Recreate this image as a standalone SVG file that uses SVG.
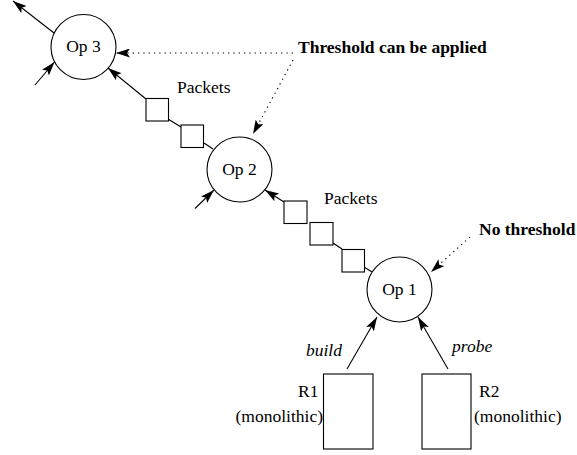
<svg xmlns="http://www.w3.org/2000/svg" width="577" height="455" viewBox="0 0 577 455">
<style>
.node circle{fill:#fff;stroke:#000;stroke-width:1.1}
.pkt{fill:#fff;stroke:#000;stroke-width:1.1}
.lbl{font-family:"Liberation Serif","Times New Roman",serif;font-size:17.5px;fill:#000}
.b{font-weight:bold}
.i{font-style:italic}
.ln{stroke:#000;stroke-width:1.1;fill:none}
.arr{marker-end:url(#ah)}
.dot{stroke-dasharray:1.3 4}
</style>
<defs>
<marker id="ah" viewBox="0 0 14 9" refX="14" refY="4.5" markerWidth="14" markerHeight="9" markerUnits="userSpaceOnUse" orient="auto">
<path d="M0,0 L14,4.5 L0,9 L3,4.5 z" fill="#000"/>
</marker>
</defs>
<g id="connectors">
<line class="ln arr" x1="54" y1="33" x2="13" y2="1"/>
<line class="ln arr" x1="35" y1="85" x2="54.5" y2="62"/>
<line class="ln arr" x1="146" y1="99" x2="108" y2="68"/>
<line class="ln" x1="168" y1="119" x2="181" y2="127"/>
<line class="ln" x1="204" y1="143" x2="213" y2="149"/>
<line class="ln arr" x1="284" y1="202" x2="265" y2="190"/>
<line class="ln arr" x1="195" y1="208.5" x2="214" y2="190"/>
<line class="ln" x1="333" y1="243" x2="342" y2="249"/>
<line class="ln" x1="364" y1="267" x2="372" y2="272"/>
<line class="ln arr" x1="347" y1="369" x2="377" y2="317"/>
<line class="ln arr" x1="448" y1="369" x2="418" y2="317"/>
<line class="ln arr dot" x1="293" y1="53" x2="116" y2="53"/>
<line class="ln arr dot" x1="293" y1="60" x2="253" y2="134"/>
<line class="ln arr dot" x1="470" y1="237" x2="431" y2="272"/>
</g>
<g id="packets">
<rect class="pkt" x="146" y="98.5" width="22.5" height="22.5"/>
<rect class="pkt" x="181" y="125" width="22.5" height="22.5"/>
<rect class="pkt" x="284" y="201" width="23" height="22.5"/>
<rect class="pkt" x="310" y="222.5" width="23" height="22.5"/>
<rect class="pkt" x="342" y="249.5" width="22.5" height="22.5"/>
</g>
<g id="op3" class="node">
<circle cx="83.5" cy="47" r="32.5"/>
<text class="lbl" x="83.5" y="51.5" text-anchor="middle">Op 3</text>
</g>
<g id="op2" class="node">
<circle cx="239.5" cy="169.5" r="32.5"/>
<text class="lbl" x="239.5" y="174.5" text-anchor="middle">Op 2</text>
</g>
<g id="op1" class="node">
<circle cx="399.5" cy="289.5" r="32.5"/>
<text class="lbl" x="399.5" y="294.5" text-anchor="middle">Op 1</text>
</g>
<g id="r1">
<rect class="pkt" x="323.5" y="374" width="49.5" height="75"/>
<text class="lbl" x="298" y="397">R1</text>
<text class="lbl" x="323" y="422" text-anchor="end">(monolithic)</text>
</g>
<g id="r2">
<rect class="pkt" x="422" y="374" width="49" height="75"/>
<text class="lbl" x="479" y="397">R2</text>
<text class="lbl" x="474" y="422">(monolithic)</text>
</g>
<g id="labels">
<text class="lbl" x="177" y="93">Packets</text>
<text class="lbl" x="324" y="204">Packets</text>
<text class="lbl b" x="298" y="53">Threshold can be applied</text>
<text class="lbl b" x="479" y="235">No threshold</text>
<text class="lbl i" x="306" y="356">build</text>
<text class="lbl i" x="452" y="352">probe</text>
</g>
</svg>
